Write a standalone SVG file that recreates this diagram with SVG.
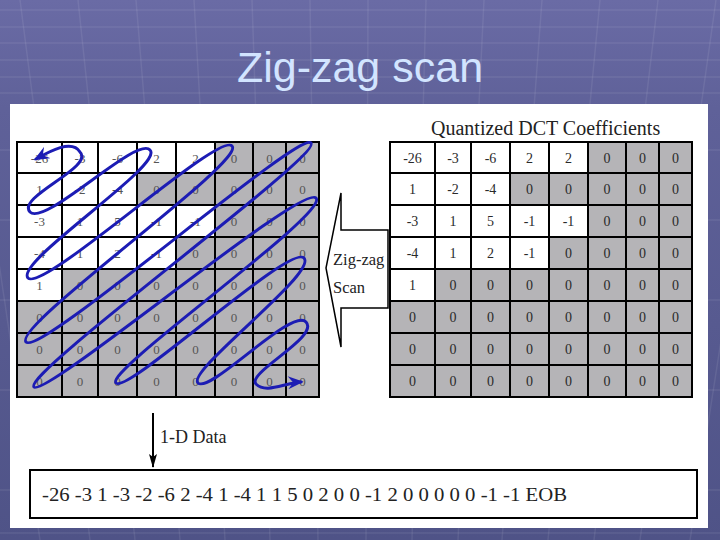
<svg xmlns="http://www.w3.org/2000/svg" width="720" height="540" viewBox="0 0 720 540">
<defs>
<linearGradient id="bg" x1="0" y1="0" x2="0" y2="1">
<stop offset="0" stop-color="#6a6ba5"/>
<stop offset="0.2" stop-color="#5f6199"/>
<stop offset="1" stop-color="#4f5387"/>
</linearGradient>
<marker id="bh" viewBox="0 0 12 10" refX="10" refY="5" markerWidth="16" markerHeight="13" markerUnits="userSpaceOnUse" orient="auto-start-reverse">
<path d="M0,0 L12,5 L0,10 L4,5 z" fill="#1c1cb4"/>
</marker>
<marker id="ah" viewBox="0 0 8 14" refX="4" refY="13" markerWidth="8" markerHeight="14" markerUnits="userSpaceOnUse" orient="0">
<path d="M0,0 L4,3 L8,0 L4,14 z" fill="#000"/>
</marker>
</defs>
<style>
.grid{fill:none;stroke:#000;stroke-width:2}
.gray{fill:#b5b4b7}
.lt{font-family:"Liberation Serif","Times New Roman",serif;font-size:13px;fill:#555;text-anchor:middle}
.rt{font-family:"Liberation Serif","Times New Roman",serif;font-size:14px;fill:#2a2a2a;text-anchor:middle}
.lbl{font-family:"Liberation Serif","Times New Roman",serif;fill:#222}
.bgl{stroke:#ffffff;stroke-opacity:0.08;stroke-width:1.5;fill:none}
</style>
<rect x="0" y="0" width="720" height="540" fill="url(#bg)"/>
<g class="bgl">
<path d="M-40,0 L40,540 M20,0 L90,540 M78,0 L135,540 M136,0 L180,540 M194,0 L225,540 M252,0 L270,540 M310,0 L318,540 M368,0 L366,540 M426,0 L412,540 M484,0 L458,540 M542,0 L502,540 M600,0 L548,540 M658,0 L594,540 M716,0 L640,540 M774,0 L690,540"/>
<path d="M0,10 H720 M0,27 H720 M0,43 H720 M0,60 H720 M0,77 H720 M0,93 H720 M0,150 H720 M0,220 H720 M0,300 H720 M0,390 H720 M0,490 H720 M0,533 H720"/>
</g>
<text x="360" y="82" font-family="Liberation Sans, Arial, sans-serif" font-size="43" fill="#d2e4ff" text-anchor="middle">Zig-zag scan</text>
<rect x="10" y="104" width="698" height="424" fill="#fff"/>

<g id="scan-grid">
<rect x="17" y="142" width="302" height="255" fill="#fff"/>
<path class="gray" d="M215,142H319V173H215z M137,173H319V205H137z M215,205H319V237H215z M176,237H319V269H176z M62,269H319V301H62z M17,301H319V397H17z"/>
<path class="grid" d="M17,142H319V397H17z M62,142V397 M98,142V397 M137,142V397 M176,142V397 M215,142V397 M253,142V397 M286,142V397 M17,173H319 M17,205H319 M17,237H319 M17,269H319 M17,301H319 M17,333H319 M17,365H319"/>
<g class="lt">
<text x="39.5" y="162.5">-26</text><text x="80" y="162.5">-3</text><text x="117.5" y="162.5">-6</text><text x="156.5" y="162.5">2</text><text x="195.5" y="162.5">2</text><text x="234" y="162.5">0</text><text x="269.5" y="162.5">0</text><text x="302.5" y="162.5">0</text>
<text x="39.5" y="194">1</text><text x="80" y="194">-2</text><text x="117.5" y="194">-4</text><text x="156.5" y="194">0</text><text x="195.5" y="194">0</text><text x="234" y="194">0</text><text x="269.5" y="194">0</text><text x="302.5" y="194">0</text>
<text x="39.5" y="226">-3</text><text x="80" y="226">1</text><text x="117.5" y="226">5</text><text x="156.5" y="226">-1</text><text x="195.5" y="226">-1</text><text x="234" y="226">0</text><text x="269.5" y="226">0</text><text x="302.5" y="226">0</text>
<text x="39.5" y="258">-4</text><text x="80" y="258">1</text><text x="117.5" y="258">2</text><text x="156.5" y="258">-1</text><text x="195.5" y="258">0</text><text x="234" y="258">0</text><text x="269.5" y="258">0</text><text x="302.5" y="258">0</text>
<text x="39.5" y="290">1</text><text x="80" y="290">0</text><text x="117.5" y="290">0</text><text x="156.5" y="290">0</text><text x="195.5" y="290">0</text><text x="234" y="290">0</text><text x="269.5" y="290">0</text><text x="302.5" y="290">0</text>
<text x="39.5" y="322">0</text><text x="80" y="322">0</text><text x="117.5" y="322">0</text><text x="156.5" y="322">0</text><text x="195.5" y="322">0</text><text x="234" y="322">0</text><text x="269.5" y="322">0</text><text x="302.5" y="322">0</text>
<text x="39.5" y="354">0</text><text x="80" y="354">0</text><text x="117.5" y="354">0</text><text x="156.5" y="354">0</text><text x="195.5" y="354">0</text><text x="234" y="354">0</text><text x="269.5" y="354">0</text><text x="302.5" y="354">0</text>
<text x="39.5" y="386">0</text><text x="80" y="386">0</text><text x="117.5" y="386">0</text><text x="156.5" y="386">0</text><text x="195.5" y="386">0</text><text x="234" y="386">0</text><text x="269.5" y="386">0</text><text x="302.5" y="386">0</text>
</g>
</g>

<g id="dct-grid">
<text class="lbl" x="431" y="135" font-size="20" fill="#333">Quantized DCT Coefficients</text>
<rect x="390" y="142" width="302" height="255" fill="#fff"/>
<path class="gray" d="M588,142H692V173H588z M510,173H692V205H510z M588,205H692V237H588z M549,237H692V269H549z M435,269H692V301H435z M390,301H692V397H390z"/>
<path class="grid" d="M390,142H692V397H390z M435,142V397 M471,142V397 M510,142V397 M549,142V397 M588,142V397 M626,142V397 M659,142V397 M390,173H692 M390,205H692 M390,237H692 M390,269H692 M390,301H692 M390,333H692 M390,365H692"/>
<g class="rt">
<text x="412.5" y="162.5">-26</text><text x="453" y="162.5">-3</text><text x="490.5" y="162.5">-6</text><text x="529.5" y="162.5">2</text><text x="568.5" y="162.5">2</text><text x="607" y="162.5">0</text><text x="642.5" y="162.5">0</text><text x="675.5" y="162.5">0</text>
<text x="412.5" y="194">1</text><text x="453" y="194">-2</text><text x="490.5" y="194">-4</text><text x="529.5" y="194">0</text><text x="568.5" y="194">0</text><text x="607" y="194">0</text><text x="642.5" y="194">0</text><text x="675.5" y="194">0</text>
<text x="412.5" y="226">-3</text><text x="453" y="226">1</text><text x="490.5" y="226">5</text><text x="529.5" y="226">-1</text><text x="568.5" y="226">-1</text><text x="607" y="226">0</text><text x="642.5" y="226">0</text><text x="675.5" y="226">0</text>
<text x="412.5" y="258">-4</text><text x="453" y="258">1</text><text x="490.5" y="258">2</text><text x="529.5" y="258">-1</text><text x="568.5" y="258">0</text><text x="607" y="258">0</text><text x="642.5" y="258">0</text><text x="675.5" y="258">0</text>
<text x="412.5" y="290">1</text><text x="453" y="290">0</text><text x="490.5" y="290">0</text><text x="529.5" y="290">0</text><text x="568.5" y="290">0</text><text x="607" y="290">0</text><text x="642.5" y="290">0</text><text x="675.5" y="290">0</text>
<text x="412.5" y="322">0</text><text x="453" y="322">0</text><text x="490.5" y="322">0</text><text x="529.5" y="322">0</text><text x="568.5" y="322">0</text><text x="607" y="322">0</text><text x="642.5" y="322">0</text><text x="675.5" y="322">0</text>
<text x="412.5" y="354">0</text><text x="453" y="354">0</text><text x="490.5" y="354">0</text><text x="529.5" y="354">0</text><text x="568.5" y="354">0</text><text x="607" y="354">0</text><text x="642.5" y="354">0</text><text x="675.5" y="354">0</text>
<text x="412.5" y="386">0</text><text x="453" y="386">0</text><text x="490.5" y="386">0</text><text x="529.5" y="386">0</text><text x="568.5" y="386">0</text><text x="607" y="386">0</text><text x="642.5" y="386">0</text><text x="675.5" y="386">0</text>
</g>
</g>

<g id="zigzag-label">
<path d="M341,193 V230 H388 V308 H341 V347 L326,268 Z" fill="#fff" stroke="#000" stroke-width="1.5"/>
<text class="lbl" x="333" y="265" font-size="16.5">Zig-zag</text>
<text class="lbl" x="333" y="293" font-size="16.5">Scan</text>
</g>

<g id="oned-box">
<rect x="30" y="470" width="667" height="48" fill="#fff" stroke="#000" stroke-width="2"/>
<text class="lbl" x="42" y="501" font-size="19" textLength="525" lengthAdjust="spacingAndGlyphs">-26 -3 1 -3 -2 -6 2 -4 1 -4 1 1 5 0 2 0 0 -1 2 0 0 0 0 0 -1 -1 EOB</text>
</g>

<g id="connectors">
<path d="M36,159 C50,151 72,139 80,152 C95,167 16,197 30,212 C45,227 137,135 150,150 C165,165 14,262 28,278 C43,293 219,131 232,146 C247,161 12,326 26,342 C40,357 299,130 311,143 C322,156 22,374 34,387 C46,398 302,183 316,198 C330,213 104,371 116,383 C128,394 290,243 304,258 C318,273 186,371 198,383 C210,394 292,307 306,322 C320,337 246,373 256,384 C266,394 284,383 301,382" fill="none" stroke="#1c1cb4" stroke-width="3" stroke-linecap="round" marker-start="url(#bh)" marker-end="url(#bh)"/>
<line x1="153" y1="413" x2="153" y2="467" stroke="#000" stroke-width="2" marker-end="url(#ah)"/>
<text class="lbl" x="160" y="443" font-size="18">1-D Data</text>
</g>
</svg>
